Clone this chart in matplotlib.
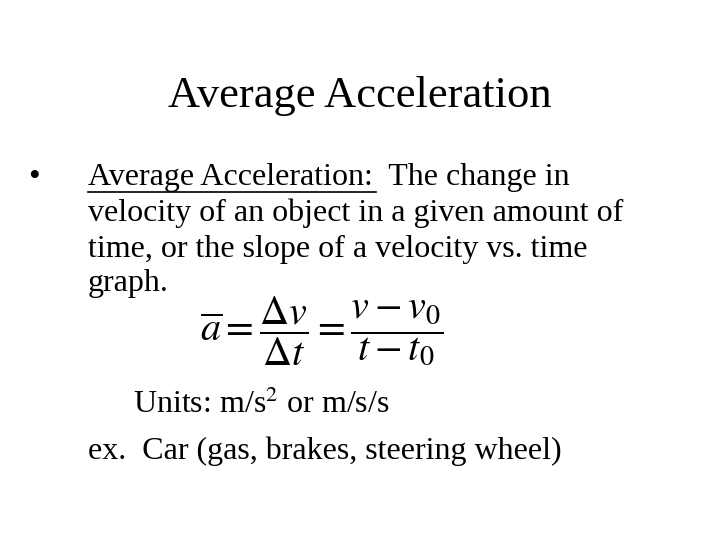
import matplotlib
matplotlib.use("Agg")
import matplotlib.pyplot as plt
from matplotlib.lines import Line2D

plt.rcParams['font.family'] = ['Liberation Serif', 'DejaVu Serif']
plt.rcParams['mathtext.fontset'] = 'stix'

title = "Average Acceleration"
body_lines = ["Average Acceleration:  The change in",
              "velocity of an object in a given amount of",
              "time, or the slope of a velocity vs. time",
              "graph."]
formula = r'$\overline{a}=\dfrac{\Delta v}{\Delta t}=\dfrac{v-v_0}{t-t_0}$'
units = r"Units: m/s$^2$ or m/s/s"
example = "ex.  Car (gas, brakes, steering wheel)"

fig = plt.figure(figsize=(7.2, 5.4), dpi=100)
fig.patch.set_facecolor('white')
W, H = 720, 540
def P(x, y):
    return x / W, 1 - y / H

fig.text(*P(360, 96), title, ha='center', va='center', fontsize=32)
fig.text(*P(28, 178), "•", ha='left', va='center', fontsize=24)
ys = [178, 213, 249, 284]
for line, y in zip(body_lines, ys):
    fig.text(*P(88, y), line, ha='left', va='center', fontsize=23)
fig.add_artist(Line2D([88 / W, 376 / W], [1 - 192 / H] * 2, color='black', lw=1.2))
fig.text(*P(200, 331), formula, ha='left', va='center', fontsize=29)
fig.text(*P(133, 405), units, ha='left', va='center', fontsize=23)
fig.text(*P(88, 451), example, ha='left', va='center', fontsize=23)

fig.savefig("out.png", dpi=100, facecolor='white')
